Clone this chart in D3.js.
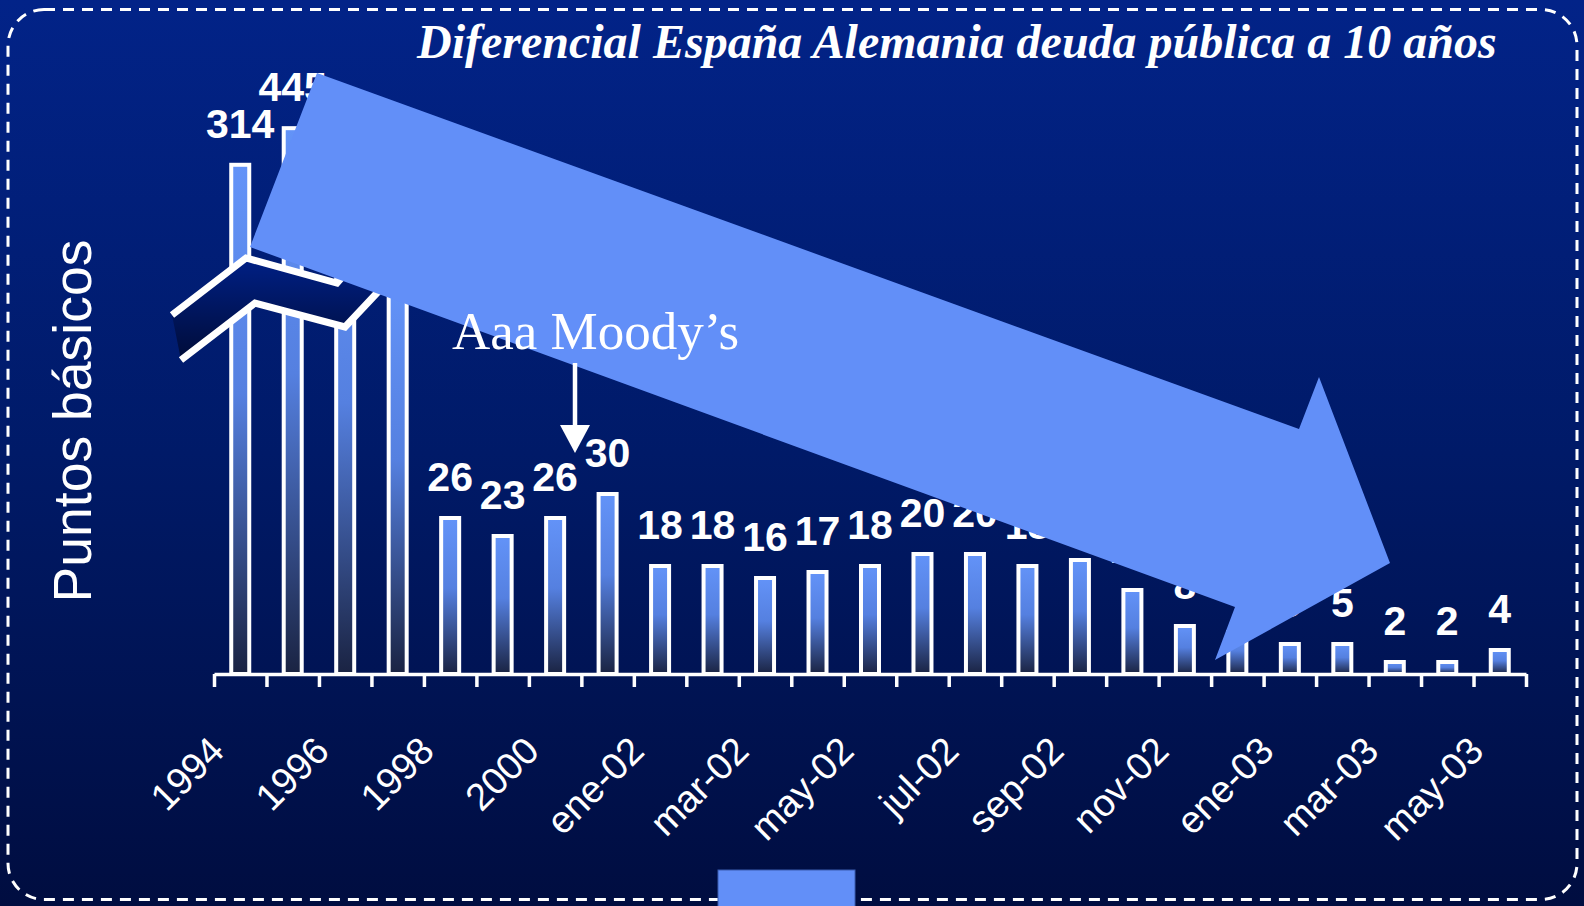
<!DOCTYPE html>
<html>
<head>
<meta charset="utf-8">
<script src="https://cdn.jsdelivr.net/npm/d3@7"></script>
<style>
  html, body { margin: 0; padding: 0; background: #001a68; overflow: hidden; }
</style>
</head>
<body>
<div id="chart"></div>
<script>
// diferencial en puntos basicos, anual hasta 2001 y mensual despues
var categories = ["1994","1995","1996","1997","1998","1999","2000","2001",
  "ene-02","feb-02","mar-02","abr-02","may-02","jun-02","jul-02","ago-02",
  "sep-02","oct-02","nov-02","dic-02","ene-03","feb-03","mar-03","abr-03","may-03"];
var values = [314,445,256,80,26,23,26,30,18,18,16,17,18,20,20,18,19,14,8,7,5,5,2,2,4];
var tickLabels = ["1994","1996","1998","2000","ene-02","mar-02","may-02","jul-02",
  "sep-02","nov-02","ene-03","mar-03","may-03"];

var width = 1584,
    height = 906;
var light = "#628ff8";
var sans = "'Liberation Sans', Arial, sans-serif";
var serif = "'Liberation Serif', 'Times New Roman', serif";

var svg = d3.select("#chart")
  .append("svg")
  .attr("width", width)
  .attr("height", height);

var defs = svg.append("defs");

function vgrad(id, stops) {
  var g = defs.append("linearGradient").attr("id", id)
    .attr("x1", 0).attr("y1", 0).attr("x2", 0).attr("y2", 1);
  stops.forEach(function(s) {
    g.append("stop").attr("offset", s[0]).attr("stop-color", s[1]);
  });
}
vgrad("bg", [[0, "#022388"], [0.5, "#001a68"], [1, "#000d40"]]);
vgrad("barGrad", [[0, "#6393f8"], [0.45, "#5580e0"], [1, "#1a2342"]]);
vgrad("breakGrad", [[0, "#00259a"], [1, "#000c38"]]);

svg.append("rect")
  .attr("width", width)
  .attr("height", height)
  .attr("fill", "url(#bg)");

// scales: broken y axis (lower part 0-50, compressed part above)
var x = d3.scaleBand()
  .domain(categories)
  .range([214, 1526])
  .paddingInner(0.657)
  .paddingOuter(0.657 / 2);

var y = d3.scaleLinear()
  .domain([0, 50, 100, 500])
  .range([674, 374, 224.6, 112.8]);

var datapoints = categories.map(function(c, i) {
  return { cat: c, value: values[i] };
});

// bars
svg.selectAll(".bar")
  .data(datapoints)
  .enter().append("rect")
  .attr("class", "bar")
  .attr("x", function(d) { return x(d.cat); })
  .attr("y", function(d) { return y(d.value); })
  .attr("width", x.bandwidth())
  .attr("height", function(d) { return y(0) - y(d.value); })
  .attr("fill", "url(#barGrad)")
  .attr("stroke", "#fff")
  .attr("stroke-width", 4);

// value labels
svg.selectAll(".bar-label")
  .data(datapoints)
  .enter().append("text")
  .attr("class", "bar-label")
  .attr("x", function(d) { return x(d.cat) + x.bandwidth() / 2; })
  .attr("y", function(d) { return y(d.value) - 27; })
  .attr("text-anchor", "middle")
  .attr("fill", "#fff")
  .style("font-family", sans)
  .style("font-weight", "bold")
  .style("font-size", "41px")
  .text(function(d) { return d.value; });

// x axis with ticks between bars
var xb = d3.scaleLinear().domain([0, categories.length]).range(x.range());
svg.append("g")
  .attr("transform", "translate(0," + y(0) + ")")
  .call(d3.axisBottom(xb)
    .tickValues(d3.range(categories.length + 1))
    .tickSize(13)
    .tickSizeOuter(0)
    .tickFormat(""))
  .call(function(g) {
    g.selectAll("path, line").attr("stroke", "#fff").attr("stroke-width", 3.5);
  });

var xl = svg.append("g")
  .attr("transform", "translate(0," + y(0) + ")")
  .call(d3.axisBottom(x).tickValues(tickLabels).tickSize(0));
xl.select(".domain").remove();
xl.selectAll("text")
  .attr("x", 0).attr("y", 0).attr("dy", 0)
  .attr("transform", "translate(-14,79) rotate(-45)")
  .attr("text-anchor", "end")
  .attr("fill", "#fff")
  .style("font-family", sans)
  .style("font-size", "38px");

// axis break symbol
var breakTop = [[172, 315], [246, 258], [337, 283], [383, 231]];
var breakBottom = [[181, 360], [255, 303], [345, 327], [392, 277]];
svg.append("polygon")
  .attr("points", breakTop.concat(breakBottom.slice().reverse()).join(" "))
  .attr("fill", "url(#breakGrad)");
[breakTop, breakBottom].forEach(function(pts) {
  svg.append("polyline")
    .attr("points", pts.join(" "))
    .attr("fill", "none")
    .attr("stroke", "#fff")
    .attr("stroke-width", 7);
});

// big trend arrow
var bigArrow = [[317, 73], [1299, 429], [1319, 377], [1390, 563],
  [1215, 660], [1235, 607], [250, 247]];
svg.append("polygon")
  .attr("points", bigArrow.join(" "))
  .attr("fill", light);

// Moody's annotation
svg.append("text")
  .attr("x", 452)
  .attr("y", 349)
  .attr("fill", "#fff")
  .style("font-family", serif)
  .style("font-size", "53px")
  .text("Aaa Moody\u2019s");
svg.append("line")
  .attr("x1", 575).attr("y1", 363)
  .attr("x2", 575).attr("y2", 428)
  .attr("stroke", "#fff")
  .attr("stroke-width", 4.5);
svg.append("polygon")
  .attr("points", "560,425 590,425 575,453")
  .attr("fill", "#fff");

// title
svg.append("text")
  .attr("x", 417)
  .attr("y", 58)
  .attr("fill", "#fff")
  .style("font-family", serif)
  .style("font-weight", "bold")
  .style("font-style", "italic")
  .style("font-size", "48px")
  .text("Diferencial España Alemania deuda pública a 10 años");

// y label
svg.append("text")
  .attr("transform", "translate(91,421) rotate(-90)")
  .attr("text-anchor", "middle")
  .attr("fill", "#fff")
  .style("font-family", sans)
  .style("font-size", "53.5px")
  .text("Puntos básicos");

// dashed frame and small tab at the bottom
svg.append("rect")
  .attr("x", 8).attr("y", 9.5)
  .attr("width", 1569).attr("height", 890)
  .attr("rx", 36).attr("ry", 36)
  .attr("fill", "none")
  .attr("stroke", "#fff")
  .attr("stroke-width", 3)
  .attr("stroke-dasharray", "11,8");

svg.append("rect")
  .attr("x", 718).attr("y", 870)
  .attr("width", 137).attr("height", 40)
  .attr("fill", light)
  .attr("stroke", "#3a5cb0")
  .attr("stroke-width", 1);
</script>
</body>
</html>
